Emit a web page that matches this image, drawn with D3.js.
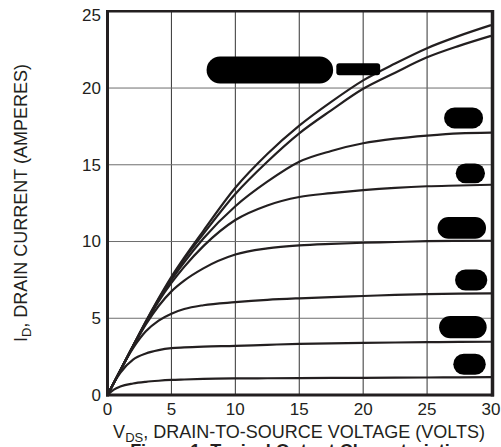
<!DOCTYPE html>
<html>
<head>
<meta charset="utf-8">
<script src="https://cdn.jsdelivr.net/npm/d3@7"></script>
<style>
  body { margin: 0; background: #fff; }
  text { font-family: "Liberation Sans", Arial, sans-serif; fill: #231f20; }
</style>
</head>
<body>
<svg id="chart" width="501" height="447"></svg>
<script>
// drain-source voltage sample points (volts)
var vds = [0, 0.5, 1, 2, 3, 4, 5, 6, 7.5, 10, 12.5, 15, 17.5, 20, 22.5, 25, 27.5, 30];

// drain current (amps) for each gate voltage curve, top to bottom
var id1 = [0, 0.8, 1.6, 3.2, 4.8, 6.3, 7.7, 8.95, 10.7, 13.5, 15.7, 17.55, 19.1, 20.5, 21.6, 22.6, 23.4, 24.1];
var id2 = [0, 0.8, 1.6, 3.2, 4.75, 6.25, 7.6, 8.85, 10.5, 13.1, 15.2, 17.05, 18.55, 19.95, 21.0, 22.0, 22.75, 23.4];
var id3 = [0, 0.8, 1.6, 3.2, 4.75, 6.2, 7.5, 8.65, 10.2, 12.3, 13.9, 15.2, 15.9, 16.4, 16.7, 16.9, 17.05, 17.1];
var id4 = [0, 0.8, 1.6, 3.2, 4.7, 6.1, 7.3, 8.35, 9.7, 11.4, 12.35, 12.9, 13.15, 13.35, 13.5, 13.6, 13.65, 13.7];
var id5 = [0, 0.8, 1.6, 3.15, 4.6, 5.8, 6.75, 7.45, 8.25, 9.15, 9.55, 9.75, 9.85, 9.92, 9.97, 10.02, 10.04, 10.05];
var id6 = [0, 0.8, 1.6, 3.05, 4.15, 4.85, 5.3, 5.6, 5.85, 6.05, 6.2, 6.3, 6.38, 6.45, 6.52, 6.57, 6.6, 6.62];
var id7 = [0, 0.8, 1.45, 2.3, 2.7, 2.92, 3.05, 3.1, 3.15, 3.2, 3.27, 3.33, 3.37, 3.4, 3.42, 3.44, 3.46, 3.47];
var id8 = [0, 0.35, 0.55, 0.75, 0.86, 0.93, 0.98, 1.01, 1.05, 1.08, 1.09, 1.1, 1.11, 1.12, 1.13, 1.14, 1.15, 1.16];

var xTicks = [0, 5, 10, 15, 20, 25, 30];
var yTicks = [0, 5, 10, 15, 20, 25];

// blacked-out curve labels: [vds from, vds to, id top, id bottom]
var labelBoxes = [
  [7.75, 17.65, 22.05, 20.3],
  [26.33, 29.38, 18.74, 17.37],
  [27.24, 29.53, 15.09, 13.79],
  [25.82, 29.61, 11.59, 10.18],
  [27.19, 29.71, 8.18, 6.81],
  [25.94, 29.66, 5.14, 3.70],
  [27.05, 29.59, 2.69, 1.32]
];

var ink = "#231f20";
var svg = d3.select("#chart");

var x = d3.scaleLinear().domain([0, 30]).range([107.5, 491]);
var y = d3.scaleLinear().domain([0, 25]).range([395, 11.3]);

// grid
svg.append("g")
  .selectAll("line")
  .data(xTicks.slice(1, -1))
  .enter().append("line")
  .attr("x1", d => x(d)).attr("x2", d => x(d))
  .attr("y1", y(25)).attr("y2", y(0))
  .attr("stroke", "#333").attr("stroke-width", 1);

svg.append("g")
  .selectAll("line")
  .data(yTicks.slice(1, -1))
  .enter().append("line")
  .attr("x1", x(0)).attr("x2", x(30))
  .attr("y1", d => y(d)).attr("y2", d => y(d))
  .attr("stroke", "#6d6d6d").attr("stroke-width", 1);

// curves
var series = [id1, id2, id3, id4, id5, id6, id7, id8];
var line = d3.line()
  .x(function(d, i) { return x(vds[i]); })
  .y(function(d) { return y(d); })
  .curve(d3.curveMonotoneX);

svg.append("g")
  .selectAll("path")
  .data(series)
  .enter().append("path")
  .attr("d", line)
  .attr("fill", "none")
  .attr("stroke", ink)
  .attr("stroke-width", 2.2);

// redacted labels
var lbl = svg.append("g");
lbl.selectAll("rect")
  .data(labelBoxes)
  .enter().append("rect")
  .attr("x", d => x(d[0]))
  .attr("y", d => y(d[2]))
  .attr("width", d => x(d[1]) - x(d[0]))
  .attr("height", d => y(d[3]) - y(d[2]))
  .attr("rx", d => (y(d[3]) - y(d[2])) / 2)
  .attr("fill", "#000");
// little tail on the big one
lbl.append("rect")
  .attr("x", x(17.9)).attr("y", y(21.61))
  .attr("width", x(21.33) - x(17.9)).attr("height", y(20.83) - y(21.61))
  .attr("rx", 3)
  .attr("fill", "#000");

// frame
svg.append("line").attr("x1", x(0)).attr("x2", x(0)).attr("y1", 10).attr("y2", 396.5)
  .attr("stroke", ink).attr("stroke-width", 3);
svg.append("line").attr("x1", 106).attr("x2", 494).attr("y1", y(0)).attr("y2", y(0))
  .attr("stroke", ink).attr("stroke-width", 3);
svg.append("line").attr("x1", 492.5).attr("x2", 492.5).attr("y1", 10).attr("y2", 396.5)
  .attr("stroke", ink).attr("stroke-width", 3.5);
svg.append("line").attr("x1", 106).attr("x2", 494).attr("y1", 11.2).attr("y2", 11.2)
  .attr("stroke", ink).attr("stroke-width", 2.5);

// tick labels
svg.append("g")
  .selectAll("text")
  .data(xTicks)
  .enter().append("text")
  .attr("x", d => x(d))
  .attr("y", 415)
  .attr("text-anchor", "middle")
  .style("font-size", "17px")
  .text(d => d);

svg.append("g")
  .selectAll("text")
  .data(yTicks)
  .enter().append("text")
  .attr("x", 101)
  .attr("y", d => y(d))
  .attr("dy", d => d === 25 ? "0.55em" : "0.35em")
  .attr("text-anchor", "end")
  .style("font-size", "17px")
  .text(d => d);

// axis titles
var xt = svg.append("text")
  .attr("x", 299)
  .attr("y", 438)
  .attr("text-anchor", "middle")
  .style("font-size", "18px");
xt.append("tspan").text("V");
xt.append("tspan").attr("dy", 4).style("font-size", "13px").text("DS");
xt.append("tspan").attr("dy", -4).text(", DRAIN-TO-SOURCE VOLTAGE (VOLTS)");

var yt = svg.append("text")
  .attr("transform", "translate(27,203) rotate(-90)")
  .attr("text-anchor", "middle")
  .style("font-size", "18px");
yt.append("tspan").text("I");
yt.append("tspan").attr("dy", 4).style("font-size", "13px").text("D");
yt.append("tspan").attr("dy", -4).text(", DRAIN CURRENT (AMPERES)");

// figure caption, mostly cut off by the bottom edge like in the source scan
svg.append("text")
  .attr("x", 300)
  .attr("y", 457)
  .attr("text-anchor", "middle")
  .style("font-size", "18px")
  .style("font-weight", "bold")
  .text("Figure 1. Typical Output Characteristics");
</script>
</body>
</html>
